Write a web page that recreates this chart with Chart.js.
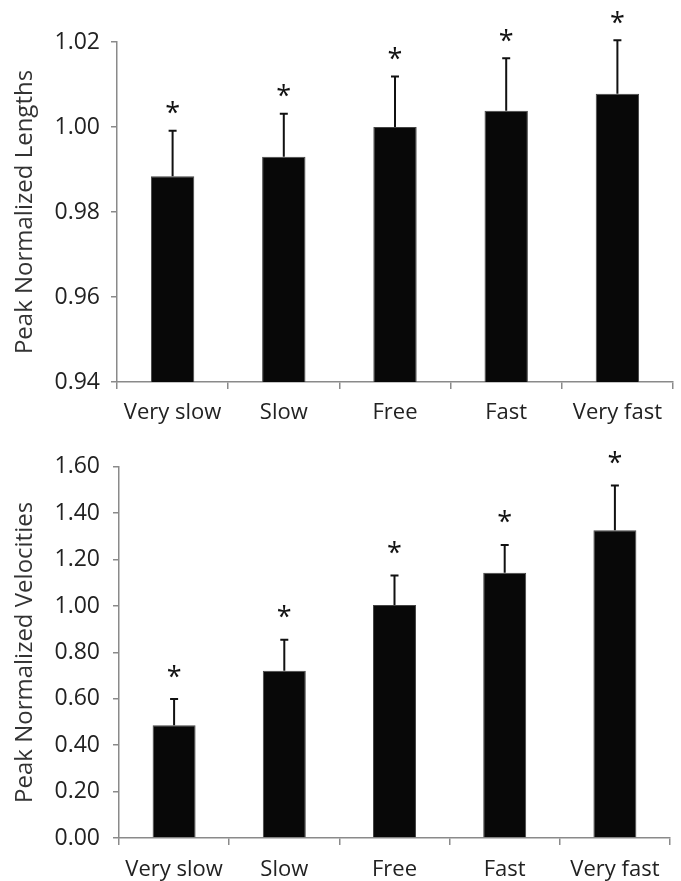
<!DOCTYPE html>
<html>
<head>
<meta charset="utf-8">
<script src="https://cdn.jsdelivr.net/npm/chart.js@4.4.1/dist/chart.umd.min.js"></script>
<style>
  body { margin: 0; background: #fff; }
  .panel { position: absolute; left: 0; }
</style>
</head>
<body>
<canvas id="lengthChart" class="panel" style="top:0" width="681" height="440"></canvas>
<canvas id="velocityChart" class="panel" style="top:440px" width="681" height="441"></canvas>
<script>
// categories and values
const categories = ["Very slow", "Slow", "Free", "Fast", "Very fast"];

const lengthMeans = [0.9884, 0.9930, 1.0000, 1.0038, 1.0078];
const lengthSD = [0.0107, 0.0101, 0.0119, 0.0124, 0.0126];
const lengthTicks = ["0.94", "0.96", "0.98", "1.00", "1.02"];

const velocityMeans = [0.486, 0.721, 1.004, 1.143, 1.326];
const velocitySD = [0.113, 0.134, 0.127, 0.120, 0.193];
const velocityTicks = ["0.00", "0.20", "0.40", "0.60", "0.80", "1.00", "1.20", "1.40", "1.60"];

const FONT = "'Open Sans', sans-serif";
const AXIS_GRAY = "#8a8a8a";

// error bars (upper half only) and significance stars
const errorBarPlugin = {
    id: "errorBars",
    afterDatasetsDraw(chart, args, opts) {
        const ctx = chart.ctx;
        const meta = chart.getDatasetMeta(0);
        const yScale = chart.scales.y;
        const means = chart.data.datasets[0].data;
        ctx.save();
        ctx.strokeStyle = "#111";
        ctx.lineWidth = 2;
        ctx.fillStyle = "#111";
        ctx.font = "27px " + FONT;
        ctx.textAlign = "center";
        ctx.textBaseline = "alphabetic";
        meta.data.forEach((bar, i) => {
            const yTop = yScale.getPixelForValue(means[i] + opts.sd[i]);
            ctx.beginPath();
            ctx.moveTo(bar.x, bar.y);
            ctx.lineTo(bar.x, yTop);
            ctx.moveTo(bar.x - 4, yTop);
            ctx.lineTo(bar.x + 4, yTop);
            ctx.stroke();

            const m = ctx.measureText("*");
            const center = yTop - opts.starGap;
            const base = center + (m.actualBoundingBoxAscent - m.actualBoundingBoxDescent) / 2;
            ctx.fillText("*", bar.x, base);
        });
        ctx.restore();
    }
};

function makeChart(id, means, sd, ticks, title, opts) {
    const ctx = document.getElementById(id).getContext("2d");
    const min = parseFloat(ticks[0]);
    const max = parseFloat(ticks[ticks.length - 1]);
    const step = parseFloat(ticks[1]) - min;
    return new Chart(ctx, {
        type: "bar",
        data: {
            labels: categories,
            datasets: [{
                data: means,
                backgroundColor: "#080808",
                borderColor: "#444",
                borderWidth: 1,
                barPercentage: 0.39,
                categoryPercentage: 1.0
            }]
        },
        options: {
            responsive: false,
            animation: false,
            layout: { padding: { top: opts.top, right: opts.right, left: 0, bottom: 0 } },
            plugins: {
                legend: { display: false },
                tooltip: { enabled: false },
                errorBars: { sd: sd, starGap: opts.starGap }
            },
            scales: {
                x: {
                    grid: { drawOnChartArea: false, offset: true, color: AXIS_GRAY, tickLength: 7, lineWidth: 1.5 },
                    border: { color: AXIS_GRAY, width: 1.5 },
                    ticks: { color: "#222", font: { family: FONT, size: 22 }, padding: opts.xPad, maxRotation: 0 },
                    afterFit(scale) { scale.height = opts.xHeight; }
                },
                y: {
                    min: min,
                    max: max,
                    grid: { drawOnChartArea: false, color: AXIS_GRAY, tickLength: 6, lineWidth: 1.5 },
                    border: { color: AXIS_GRAY, width: 1.5 },
                    ticks: {
                        stepSize: step,
                        color: "#222",
                        font: { family: FONT, size: 23 },
                        padding: opts.tickPad,
                        callback: (v) => ticks.find(t => Math.abs(parseFloat(t) - v) < step / 10) || ""
                    },
                    title: {
                        display: true,
                        text: title,
                        color: "#333",
                        font: { family: FONT, size: 24 },
                        padding: { top: 11, bottom: 0 }
                    },
                    afterFit(scale) { scale.width = opts.yWidth; }
                }
            }
        },
        plugins: [errorBarPlugin]
    });
}

makeChart("lengthChart", lengthMeans, lengthSD, lengthTicks, "Peak Normalized Lengths",
    { top: 42, right: 8, xHeight: 58, yWidth: 117, tickPad: 11, xPad: 11, starGap: 23 });
makeChart("velocityChart", velocityMeans, velocitySD, velocityTicks, "Peak Normalized Velocities",
    { top: 12, right: 11, xHeight: 43, yWidth: 119, tickPad: 13, xPad: 12, starGap: 28 });
</script>
</body>
</html>
